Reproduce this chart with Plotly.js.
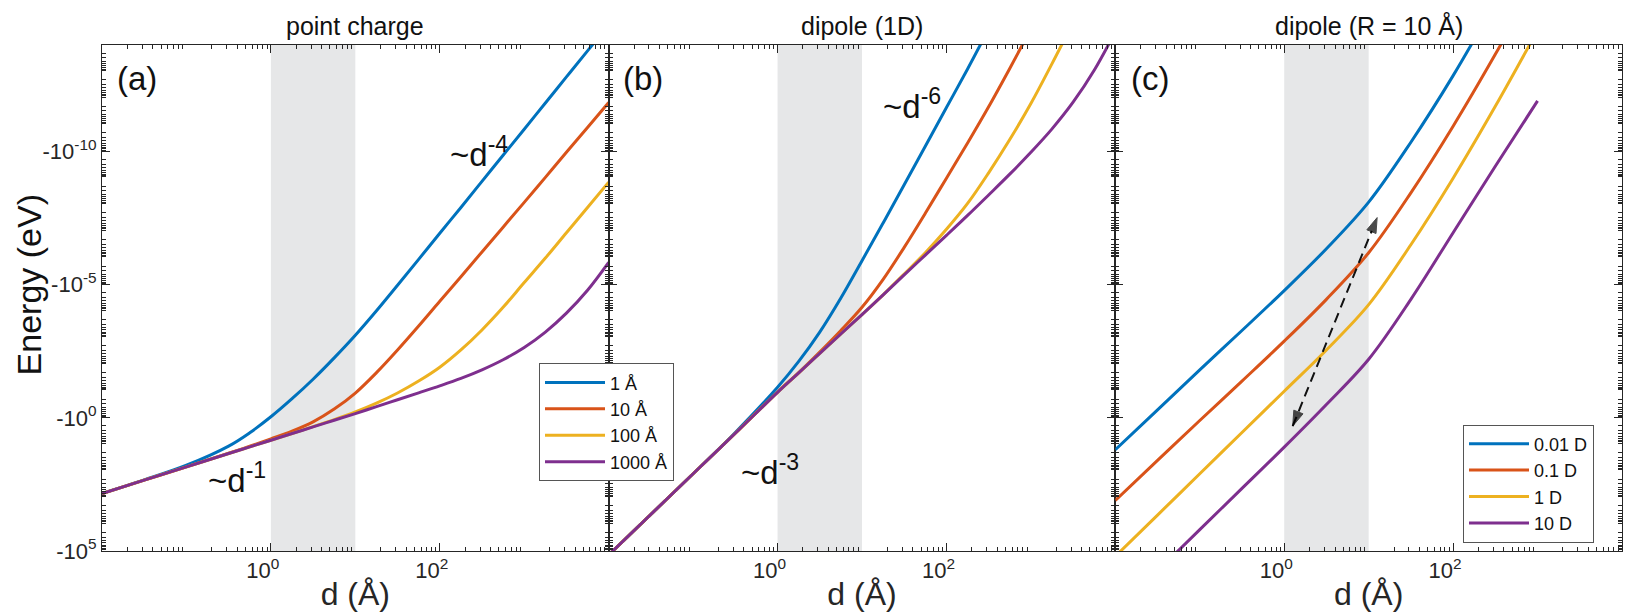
<!DOCTYPE html>
<html>
<head>
<meta charset="utf-8">
<script src="https://cdn.plot.ly/plotly-3.0.1.min.js"></script>
<style>
html,body{margin:0;padding:0;background:#fff;}
#chart{width:1629px;height:616px;}
</style>
</head>
<body>
<div id="chart"></div>
<script>
// ---------- data (d in Å, |Energy| in eV) ----------
const panelTitles = ['point charge', 'dipole (1D)', 'dipole (R = 10 Å)'];
const panelLabels = ['(a)', '(b)', '(c)'];
const seriesNamesA = ['1 Å', '10 Å', '100 Å', '1000 Å'];
const seriesNamesC = ['0.01 D', '0.1 D', '1 D', '10 D'];
const colors = ['#0072BD', '#D95319', '#EDB120', '#7E2F8E'];

// panel (a) point charge
const dA = [0.01, 0.0316, 0.1, 0.316, 0.562, 1, 1.78, 3.16, 5.62, 10, 17.8, 31.6, 56.2, 100, 178, 316, 562, 1000, 1780, 3160, 5620, 10000];
const eA_1 = [6.92e2, 2.14e2, 6.03e1, 1.15e1, 3.63, 9.12e-1, 1.91e-1, 3.55e-2, 5.62e-3, 7.94e-4, 9.55e-5, 1.05e-5, 1.12e-6, 1.17e-7, 1.26e-8, 1.32e-9, 1.38e-10, 1.45e-11, 1.51e-12, 1.58e-13, 1.66e-14, 1.74e-15];
const eA_10 = [6.92e2, 2.19e2, 6.92e1, 2.14e1, 1.17e1, 6.17, 3.16, 1.41, 4.68e-1, 1.17e-1, 2.0e-2, 2.82e-3, 3.55e-4, 4.17e-5, 5.01e-6, 5.89e-7, 6.92e-8, 8.13e-9, 9.33e-10, 1.07e-10, 1.26e-11, 1.45e-12];
const eA_100 = [6.92e2, 2.19e2, 6.92e1, 2.19e1, 1.23e1, 6.92, 3.89, 2.14, 1.17, 6.03e-1, 2.82e-1, 1.17e-1, 4.17e-2, 1.26e-2, 2.82e-3, 5.01e-4, 7.08e-5, 8.32e-6, 1.0e-6, 1.12e-7, 1.26e-8, 1.41e-9];
const eA_1000 = [6.92e2, 2.19e2, 6.92e1, 2.19e1, 1.23e1, 6.92, 3.89, 2.19, 1.23, 6.92e-1, 3.80e-1, 2.09e-1, 1.15e-1, 6.31e-2, 3.31e-2, 1.58e-2, 6.61e-3, 2.29e-3, 6.03e-4, 1.17e-4, 1.62e-5, 1.45e-6];

// panel (b) dipole (1D)
const dB = [0.01, 0.1, 0.316, 1, 1.78, 3.16, 5.62, 10, 17.8, 31.6, 56.2, 100, 178, 316, 562, 1000, 1780, 3160, 5620, 10000];
const eB_1 = [1.41e5, 1.26e2, 3.55, 7.08e-2, 7.59e-3, 6.03e-4, 3.16e-5, 1.26e-6, 4.79e-8, 1.78e-9, 6.31e-11, 2.24e-12, 7.94e-14, 2.51e-15, null, null, null, null, null, null];
const eB_10 = [1.41e5, 1.26e2, 3.80, 1.07e-1, 2.0e-2, 3.39e-3, 5.25e-4, 7.08e-5, 6.31e-6, 3.98e-7, 2.09e-8, 1.0e-9, 4.79e-11, 2.09e-12, 7.59e-14, 2.51e-15, null, null, null, null];
const eB_100 = [1.41e5, 1.26e2, 3.80, 1.10e-1, 2.04e-2, 3.80e-3, 7.08e-4, 1.32e-4, 2.40e-5, 3.98e-6, 6.31e-7, 8.32e-8, 8.91e-9, 6.31e-10, 3.55e-11, 1.58e-12, 5.01e-14, 1.41e-15, null, null];
const eB_1000 = [1.41e5, 1.26e2, 3.80, 1.10e-1, 2.04e-2, 3.80e-3, 7.08e-4, 1.32e-4, 2.40e-5, 4.27e-6, 7.76e-7, 1.41e-7, 2.51e-8, 4.27e-9, 7.08e-10, 1.07e-10, 1.41e-11, 1.41e-12, 8.91e-14, 3.16e-15];

// panel (c) dipole, R = 10 Å
const dC = [0.01, 0.0316, 0.1, 0.316, 1, 3.16, 10, 31.6, 100, 316, 1000];
const eC_001 = [1.58e1, 5.01e-1, 1.58e-2, 5.25e-4, 1.66e-5, 4.47e-7, 7.94e-9, 4.47e-11, 1.41e-13, 2.51e-16, null];
const eC_01 = [1.26e3, 3.98e1, 1.26, 4.17e-2, 1.32e-3, 3.55e-5, 6.31e-7, 3.55e-9, 1.12e-11, 2.24e-14, 3.16e-17];
const eC_1 = [1.58e5, 4.47e3, 1.26e2, 3.55, 1.0e-1, 2.82e-3, 5.62e-5, 3.16e-7, 1.0e-9, 2.0e-12, 2.82e-15];
const eC_10 = [null, 5.62e5, 1.58e4, 4.47e2, 1.26e1, 3.16e-1, 6.31e-3, 3.55e-5, 1.12e-7, 3.55e-10, 1.26e-12];

// dashed double arrow in panel (c): [d, |E|] of both tips
const arrowLow = [1.26, 2.04];
const arrowHigh = [12.6, 3.02e-8];

// axis ticks
const xLabelVals = [1e0, 1e2];
const xLabelText = ['10<sup>0</sup>', '10<sup>2</sup>'];
const xDecades = [1e-2, 1e-1, 1e0, 1e1, 1e2, 1e3, 1e4];
const yLabelVals = [1e-10, 1e-5, 1e0, 1e5];
const yLabelText = ['-10<sup>-10</sup>', '-10<sup>-5</sup>', '-10<sup>0</sup>', '-10<sup>5</sup>'];
const yDecades = [1e-14, 1e-13, 1e-12, 1e-11, 1e-10, 1e-9, 1e-8, 1e-7, 1e-6, 1e-5, 1e-4, 1e-3, 1e-2, 1e-1, 1e0, 1e1, 1e2, 1e3, 1e4, 1e5];
const shadeRange = [1, 10];

// ---------- build ----------
const FONT = 'Liberation Sans, Arial, Helvetica, sans-serif';
const INK = '#262626';

function minorTicks(lo, hi) {
  const out = [];
  for (let k = lo; k < hi; k++) for (let m = 2; m <= 9; m++) out.push(m * Math.pow(10, k));
  return out;
}
const xMinor = minorTicks(-2, 4);
const yMinor = minorTicks(-14, 5);

function line(x, y, name, color, xa, ya, legend, show) {
  return {x: x, y: y, name: name, type: 'scatter', mode: 'lines',
    line: {color: color, width: 3, shape: 'spline', smoothing: 1, simplify: false},
    xaxis: xa, yaxis: ya, legend: legend, showlegend: show, hoverinfo: 'skip'};
}

const traces = [
  line(dA, eA_1, seriesNamesA[0], colors[0], 'x', 'y', 'legend', true),
  line(dA, eA_10, seriesNamesA[1], colors[1], 'x', 'y', 'legend', true),
  line(dA, eA_100, seriesNamesA[2], colors[2], 'x', 'y', 'legend', true),
  line(dA, eA_1000, seriesNamesA[3], colors[3], 'x', 'y', 'legend', true),
  line(dB, eB_1, seriesNamesA[0], colors[0], 'x2', 'y2', 'legend', false),
  line(dB, eB_10, seriesNamesA[1], colors[1], 'x2', 'y2', 'legend', false),
  line(dB, eB_100, seriesNamesA[2], colors[2], 'x2', 'y2', 'legend', false),
  line(dB, eB_1000, seriesNamesA[3], colors[3], 'x2', 'y2', 'legend', false),
  line(dC, eC_001, seriesNamesC[0], colors[0], 'x3', 'y3', 'legend2', true),
  line(dC, eC_01, seriesNamesC[1], colors[1], 'x3', 'y3', 'legend2', true),
  line(dC, eC_1, seriesNamesC[2], colors[2], 'x3', 'y3', 'legend2', true),
  line(dC, eC_10, seriesNamesC[3], colors[3], 'x3', 'y3', 'legend2', true)
];
// dashed arrow with a head on each end
[[arrowLow, arrowHigh], [arrowHigh, arrowLow]].forEach(function (p, i) {
  traces.push({x: [p[0][0], p[1][0]], y: [p[0][1], p[1][1]], type: 'scatter', mode: 'lines+markers',
    xaxis: 'x3', yaxis: 'y3', showlegend: false, hoverinfo: 'skip',
    line: {color: '#111', width: i === 0 ? 2 : 0, dash: '10px,6px', shape: 'linear'},
    marker: {symbol: 'arrow', angleref: 'previous', size: [0, 16], color: '#000', line: {width: 1, color: '#000'}}});
});

function xAxis(domain, anchor) {
  return {type: 'log', range: [-2, 4], domain: domain, anchor: anchor,
    showline: true, linecolor: INK, linewidth: 1, mirror: 'ticks',
    ticks: 'inside', ticklen: 8, tickwidth: 1, tickcolor: INK,
    tickmode: 'array', tickvals: xLabelVals, ticktext: xLabelText, ticklabelshift: -8,
    minor: {tickmode: 'array', tickvals: xMinor, ticks: 'inside', ticklen: 4, tickcolor: INK, tickwidth: 1},
    showgrid: false, zeroline: false,
    tickfont: {family: FONT, size: 22, color: INK},
    title: {text: 'd (Å)', font: {family: FONT, size: 32, color: INK}, standoff: 0}};
}
function xOverlay(over, anchor) {
  return {type: 'log', range: [-2, 4], overlaying: over, anchor: anchor, side: 'bottom',
    showline: true, linecolor: INK, linewidth: 1, mirror: 'ticks',
    ticks: 'inside', ticklen: 8, tickwidth: 1, tickcolor: INK,
    tickmode: 'array', tickvals: xDecades, showticklabels: false, showgrid: false, zeroline: false};
}
function yAxis(anchor, labels) {
  return {type: 'log', range: [5, -14], domain: [0, 1], anchor: anchor,
    showline: true, linecolor: INK, linewidth: 1, mirror: 'ticks',
    ticks: 'inside', ticklen: 8, tickwidth: 1, tickcolor: INK,
    tickmode: 'array', tickvals: yLabelVals, ticktext: yLabelText,
    minor: {tickmode: 'array', tickvals: yMinor, ticks: 'inside', ticklen: 4, tickcolor: INK, tickwidth: 1},
    showgrid: false, zeroline: false, showticklabels: labels,
    tickfont: {family: FONT, size: 22, color: INK}};
}
function yOverlay(over, anchor) {
  return {type: 'log', range: [5, -14], overlaying: over, anchor: anchor, side: 'left',
    showline: true, linecolor: INK, linewidth: 1, mirror: 'ticks',
    ticks: 'inside', ticklen: 8, tickwidth: 1, tickcolor: INK,
    tickmode: 'array', tickvals: yDecades, showticklabels: false, showgrid: false, zeroline: false};
}

const shapes = [['x', 'y'], ['x2', 'y2'], ['x3', 'y3']].map(function (r) {
  return {type: 'rect', xref: r[0], yref: r[1] + ' domain',
    x0: shadeRange[0], x1: shadeRange[1], y0: 0, y1: 1,
    fillcolor: '#e6e7e8', line: {width: 0}, layer: 'below'};
});

const annFont = {family: FONT, size: 33, color: '#111'};
const annotations = [];
[['x', 'y'], ['x2', 'y2'], ['x3', 'y3']].forEach(function (r, i) {
  annotations.push({xref: r[0] + ' domain', yref: 'paper', x: 0.5, y: 1, yanchor: 'bottom', yshift: 3,
    text: panelTitles[i], showarrow: false, font: {family: FONT, size: 25, color: '#111'}});
  annotations.push({xref: r[0], yref: r[1], x: -1.59, y: -12.75, text: panelLabels[i], showarrow: false, font: annFont});
});
annotations.push({xref: 'x', yref: 'y', x: 2.47, y: -10.0, text: '~d<sup>-4</sup>', showarrow: false, font: annFont});
annotations.push({xref: 'x', yref: 'y', x: -0.4, y: 2.24, text: '~d<sup>-1</sup>', showarrow: false, font: annFont});
annotations.push({xref: 'x2', yref: 'y2', x: 1.59, y: -11.77, text: '~d<sup>-6</sup>', showarrow: false, font: annFont});
annotations.push({xref: 'x2', yref: 'y2', x: -0.09, y: 1.94, text: '~d<sup>-3</sup>', showarrow: false, font: annFont});
annotations.push({xref: 'paper', yref: 'paper', x: -0.048, y: 0.525, xanchor: 'center', yanchor: 'middle',
  textangle: -90, text: 'Energy (eV)', showarrow: false, font: {family: FONT, size: 34, color: '#111'}});

const legendStyle = {bgcolor: '#fff', bordercolor: '#555', borderwidth: 1, itemwidth: 60,
  font: {family: FONT, size: 18, color: '#111'}, xanchor: 'left', yanchor: 'top', tracegroupgap: 0};

const layout = {
  width: 1629, height: 616,
  margin: {l: 102, r: 7, t: 45, b: 65},
  paper_bgcolor: '#fff', plot_bgcolor: 'rgba(0,0,0,0)',
  font: {family: FONT, color: INK},
  xaxis: xAxis([0, 1 / 3], 'y'),
  xaxis2: xAxis([1 / 3, 2 / 3], 'y2'),
  xaxis3: xAxis([2 / 3, 1], 'y3'),
  yaxis: yAxis('x', true),
  yaxis2: yAxis('x2', false),
  yaxis3: yAxis('x3', false),
  xaxis4: xOverlay('x', 'y'),
  xaxis5: xOverlay('x2', 'y2'),
  xaxis6: xOverlay('x3', 'y3'),
  yaxis4: yOverlay('y', 'x'),
  yaxis5: yOverlay('y2', 'x2'),
  yaxis6: yOverlay('y3', 'x3'),
  legend: Object.assign({x: 0.2875, y: 0.371}, legendStyle),
  legend2: Object.assign({x: 0.8954, y: 0.25}, legendStyle),
  shapes: shapes,
  annotations: annotations,
  showlegend: true
};

Plotly.newPlot('chart', traces, layout, {displayModeBar: false, staticPlot: true});
</script>
</body>
</html>
